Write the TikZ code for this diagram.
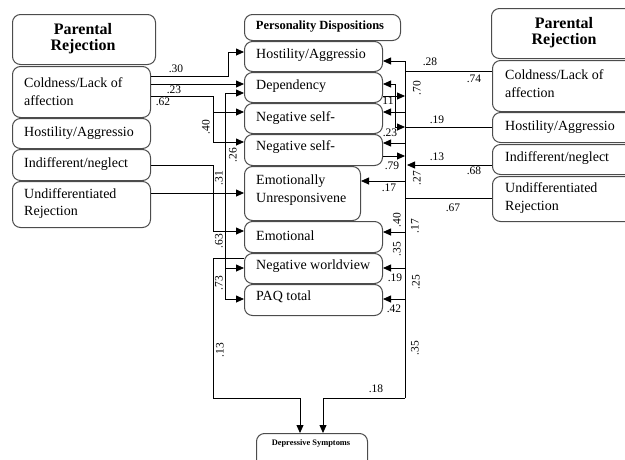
\documentclass[tikz,border=0pt]{standalone}
\usepackage{fontspec}
\setmainfont{Liberation Serif}
\usetikzlibrary{arrows.meta}
\begin{document}
\begin{tikzpicture}[x=1pt,y=-1pt,
  rbox/.style={draw=black!70, line width=1pt, rounded corners=8pt, anchor=north west, inner sep=0pt},
  txt/.style={anchor=west, align=left, inner sep=0pt, font=\fontsize{14}{17.5}\selectfont},
  hdr/.style={align=center, inner sep=0pt, font=\bfseries\fontsize{16}{16}\selectfont},
  lbl/.style={inner sep=0pt, font=\fontsize{11.5}{12}\selectfont},
  vlbl/.style={lbl, rotate=90},
  conn/.style={line width=0.8pt},
  arr/.style={conn, -{Triangle[length=8pt,width=7pt]}}]
\useasboundingbox (0,0) rectangle (625,459);

% ---------- left boxes ----------
\node[rbox, minimum width=143, minimum height=50] (LH) at (12,14) {};
\node[hdr] (LHt) at (83,39) {Parental\\Rejection};
\node[rbox, minimum width=138, minimum height=51] (L1) at (12,66) {};
\node[txt] (L1t) at (24,91.5) {Coldness/Lack of\\affection};
\node[rbox, minimum width=138, minimum height=30] (L2) at (12,118) {};
\node[txt] (L2t) at (24,133) {Hostility/Aggressio};
\node[rbox, minimum width=138, minimum height=31] (L3) at (12,149) {};
\node[txt] (L3t) at (24,164) {Indifferent/neglect};
\node[rbox, minimum width=138, minimum height=46] (L4) at (12,181) {};
\node[txt] (L4t) at (24,203.5) {Undifferentiated\\Rejection};

% ---------- middle boxes ----------
\node[rbox, minimum width=156, minimum height=26] (MH) at (244,14) {};
\node[inner sep=0pt, font=\bfseries\fontsize{12.5}{13}\selectfont] (MHt) at (320,27) {Personality Dispositions};
\node[rbox, minimum width=138, minimum height=30] (M1) at (244,41) {};
\node[txt] (M1t) at (256,55) {Hostility/Aggressio};
\node[rbox, minimum width=138, minimum height=30] (M2) at (244,72) {};
\node[txt] (M2t) at (256,86) {Dependency};
\node[rbox, minimum width=138, minimum height=30] (M3) at (244,103) {};
\node[txt] (M3t) at (256,118) {Negative self-};
\node[rbox, minimum width=138, minimum height=31] (M4) at (244,134) {};
\node[txt] (M4t) at (256,147) {Negative self-};
\node[rbox, minimum width=116, minimum height=54] (M5) at (244,166) {};
\node[txt] (M5t) at (256,190) {Emotionally\\Unresponsivene};
\node[rbox, minimum width=138, minimum height=31] (M6) at (244,221) {};
\node[txt] (M6t) at (256,236) {Emotional};
\node[rbox, minimum width=138, minimum height=30] (M7) at (244,253) {};
\node[txt] (M7t) at (256,266) {Negative worldview};
\node[rbox, minimum width=138, minimum height=31] (M8) at (244,284) {};
\node[txt] (M8t) at (256,297) {PAQ total};
\node[rbox, minimum width=111, minimum height=60] (D) at (256,433) {};
\node[inner sep=0pt, font=\bfseries\fontsize{8.4}{9}\selectfont] (Dt) at (311,443) {Depressive Symptoms};

% ---------- right boxes ----------
\node[rbox, minimum width=150, minimum height=50] (RH) at (491,8) {};
\node[hdr] (RHt) at (564,33) {Parental\\Rejection};
\node[rbox, minimum width=150, minimum height=51] (R1) at (492,60) {};
\node[txt] (R1t) at (505,83.5) {Coldness/Lack of\\affection};
\node[rbox, minimum width=150, minimum height=30] (R2) at (492,112) {};
\node[txt] (R2t) at (505,127) {Hostility/Aggressio};
\node[rbox, minimum width=150, minimum height=30] (R3) at (492,144) {};
\node[txt] (R3t) at (505,158) {Indifferent/neglect};
\node[rbox, minimum width=150, minimum height=45] (R4) at (492,176) {};
\node[txt] (R4t) at (505,198) {Undifferentiated\\Rejection};

% ---------- left connectors ----------
\draw[arr] (L1.east |- 0,76) -- (228,76) -- (228,52) -- (M1.west |- 0,52);
\draw[arr] (L1.east |- 0,84) -- (M2.west |- 0,84);
\draw[arr] (L1.east |- 0,96) -- (213,96) -- (213,142) -- (M4.west |- 0,142);
\draw[arr] (213,112) -- (M3.west |- 0,112);
\coordinate (bA) at (225,93);
\draw[arr] (225,299) -- (bA) -- (M2.west |- 0,93);
\draw[arr] (225,268) -- (M7.west |- 0,268);
\draw[arr] (225,290) -- (225,299) -- (M8.west |- 0,299);
\draw[arr] (L3.east |- 0,165) -- (213,165) -- (213,231) -- (M6.west |- 0,231);
\draw[arr] (L4.east |- 0,193) -- (M5.west |- 0,193);
\draw[arr] (M7.west |- 0,258) -- (213,258) -- (213,398) -- (300,398) -- (D.north -| 300,0);

% ---------- right connectors ----------
\draw[conn] (R1.west |- 0,71) -- (405,71);
\draw[conn] (405,61) -- (405,398);
\draw[arr] (405,61) -- (M1.east |- 0,61);
\draw[conn] (395,84) -- (395,127);
\draw[arr] (395,84) -- (M2.east |- 0,84);
\draw[arr] (M2.east |- 0,96) -- (405,96);
\draw[arr] (405,112) -- (M3.east |- 0,112);
\draw[conn] (R2.west |- 0,127) -- (405,127);
\draw[arr] (395,127) -- (405,127);
\draw[arr] (405,143) -- (M4.east |- 0,143);
\draw[arr] (M4.east |- 0,156) -- (405,156);
\draw[arr] (R3.west |- 0,165) -- (407,165);
\draw[arr] (405,181) -- (M5.east |- 0,181);
\draw[conn] (R4.west |- 0,198) -- (405,198);
\draw[arr] (405,232) -- (M6.east |- 0,232);
\draw[arr] (405,268) -- (M7.east |- 0,268);
\draw[arr] (405,299) -- (M8.east |- 0,299);
\draw[arr] (405,398) -- (323,398) -- (D.north -| 323,0);

% ---------- labels ----------
\node[lbl] (a30) at (176,69) {.30};
\node[lbl] (a23) at (174,90) {.23};
\node[lbl] (a62) at (163,102) {.62};
\node[vlbl] (a40) at (206,127) {.40};
\node[vlbl] (a26) at (233,155) {.26};
\node[vlbl] (a31) at (219,178) {.31};
\node[vlbl] (a63) at (219,241) {.63};
\node[vlbl] (a73) at (219,283) {.73};
\node[vlbl] (a13) at (220,350) {.13};

\node[lbl] (b28) at (430,62) {.28};
\node[lbl] (b74) at (474,79) {.74};
\node[vlbl] (b70) at (417,88) {.70};
\node[lbl] (b11) at (388,101) {11};
\node[lbl] (b23) at (390,133) {.23};
\node[lbl] (b19) at (437,120) {.19};
\node[lbl] (b79) at (392,166) {.79};
\node[lbl] (b13) at (437,157) {.13};
\node[lbl] (b68) at (474,171) {.68};
\node[lbl] (b17) at (389,188) {.17};
\node[vlbl] (b27) at (417,178) {.27};
\node[lbl] (b67) at (453,208) {.67};
\node[vlbl] (b40) at (397,220) {.40};
\node[vlbl] (b17b) at (415,226) {.17};
\node[vlbl] (b35) at (397,249) {.35};
\node[lbl] (b19b) at (395,278) {.19};
\node[vlbl] (b25) at (416,282) {.25};
\node[lbl] (b42) at (394,309) {.42};
\node[vlbl] (b35b) at (415,348) {.35};
\node[lbl] (b18) at (376,389) {.18};
\end{tikzpicture}
\end{document}
